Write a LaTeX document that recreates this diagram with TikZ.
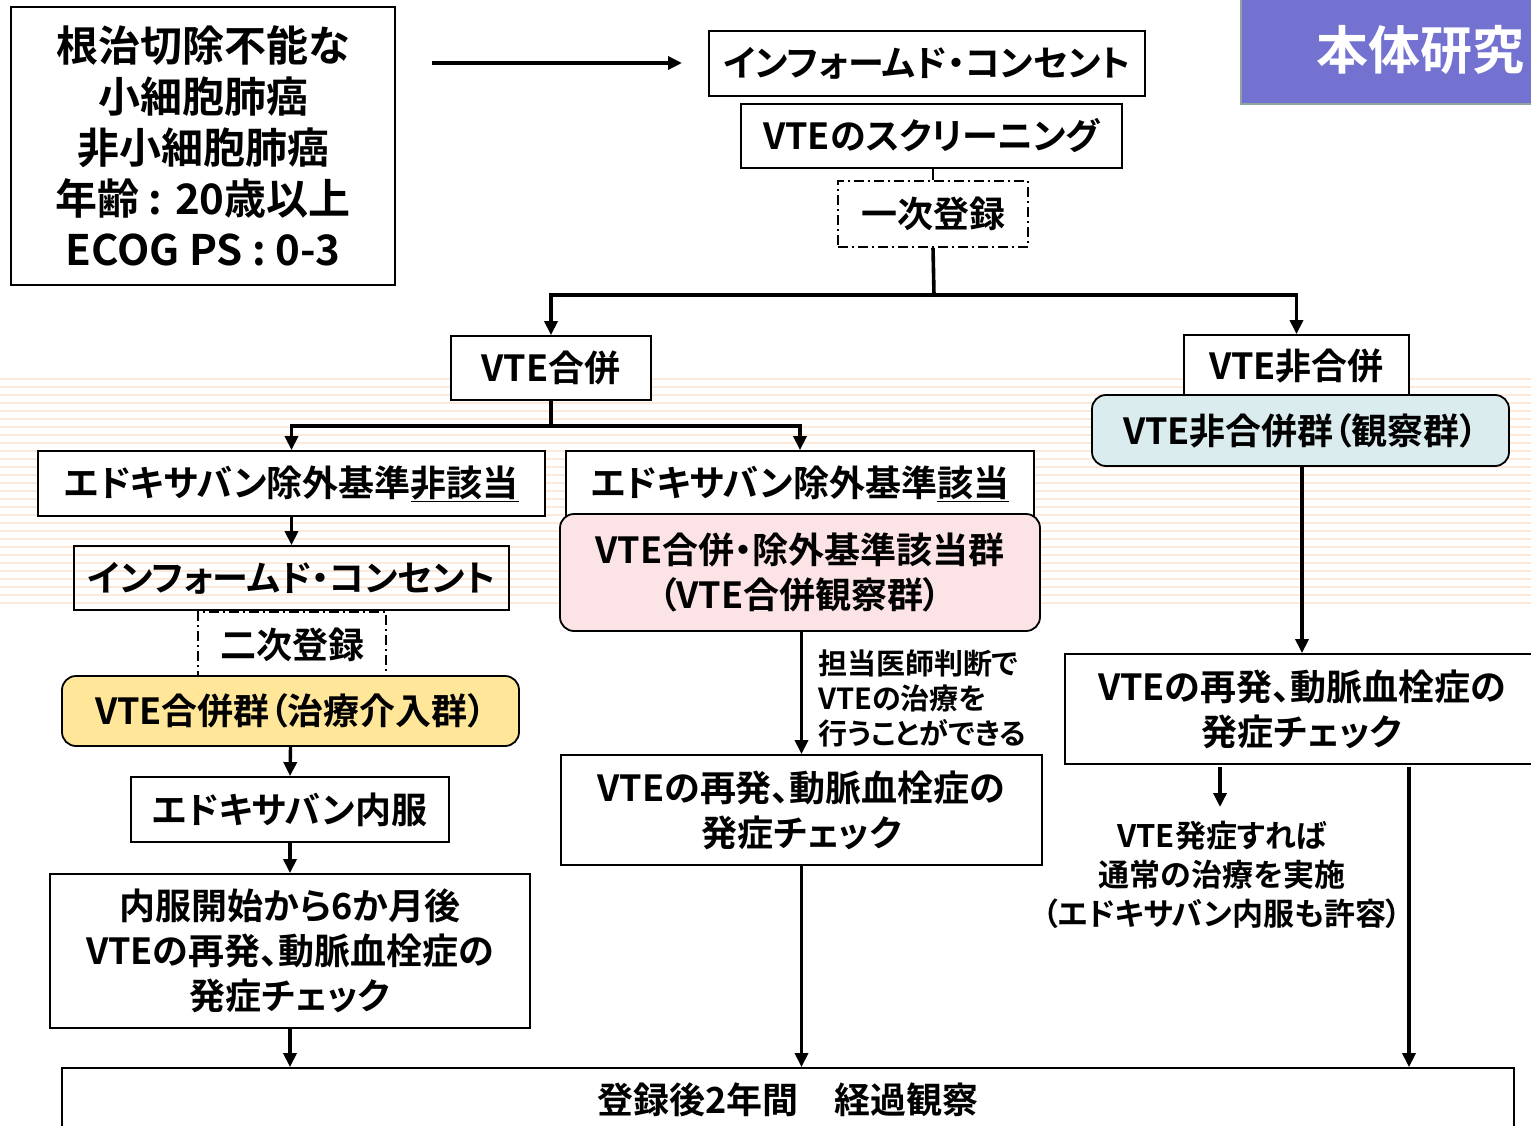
\documentclass[tikz,border=0pt]{standalone}
\usepackage{fontspec}
\setmainfont{Noto Sans CJK JP}[RawFeature=+palt, BoldFont={Noto Sans CJK JP Bold}]
\usetikzlibrary{arrows.meta}
\newcommand\myfs[2]{\fontsize{#1}{#2}\selectfont}
\definecolor{stripecol}{RGB}{253,233,217}
\definecolor{cyanfill}{RGB}{218,236,238}
\definecolor{pinkfill}{RGB}{252,228,230}
\definecolor{yelfill}{RGB}{255,230,153}
\definecolor{purp}{RGB}{116,114,208}
\definecolor{purpborder}{RGB}{140,165,160}
\tikzset{
  box/.style={draw, line width=1.8pt, fill=white, inner sep=0pt, align=center, font=\myfs{36}{45}\bfseries},
  rbox/.style={box, rounded corners=14pt},
  ddbox/.style={box, dash pattern=on 10pt off 4pt on 2pt off 4pt, line width=1.6pt},
  arr/.style={line width=3.4pt, -{Triangle[length=14pt,width=13pt]}},
  ln/.style={line width=3.6pt},
}
\begin{document}
\begin{tikzpicture}[x=1pt,y=-1pt]
\useasboundingbox (0,0) rectangle (1531,1126);
\clip (0,0) rectangle (1531,1126);
% background stripes
\foreach \yy in {379,387,...,603} \fill[stripecol] (0,\yy-1.3) rectangle (1531,\yy+1.3);

% top right tag
\node[draw=purpborder, fill=purp, line width=2.5pt, minimum width=358pt, minimum height=109pt, inner sep=0pt,
      text=white, font=\myfs{52}{60}\bfseries] (tag) at (1420,49.5) {本体研究};

% criteria box
\node[box, minimum width=384pt, minimum height=278pt, font=\myfs{42}{51}\bfseries] (crit) at (203,146)
  {根治切除不能な\\小細胞肺癌\\非小細胞肺癌\\年齢 : 20歳以上\\ECOG PS : 0-3};
\coordinate (a0) at (432,63);
\coordinate (a1) at (682,63);
\draw[arr] (a0) -- (a1);

\node[box, minimum width=436pt, minimum height=65pt] (ic1) at (927,63.5) {インフォームド・コンセント};
\node[box, minimum width=381pt, minimum height=64pt] (scr) at (931.5,136) {VTEのスクリーニング};
\node[ddbox, minimum width=190pt, minimum height=66pt] (reg1) at (933,214) {一次登録};
\draw[line width=2pt] (reg1.north) -- (reg1.north |- scr.south);

\node[box, minimum width=200pt, minimum height=64pt] (vte) at (551,368) {VTE合併};
\node[box, minimum width=225pt, minimum height=62pt] (nvte) at (1296.5,366) {VTE非合併};
\node[rbox, fill=cyanfill, minimum width=417pt, minimum height=71pt] (nvteg) at (1300.5,430.5) {VTE非合併群（観察群）};

\coordinate (j1) at (934,295);
\draw[ln] (reg1.south) -- (j1);
\draw[arr] (j1) -| (vte.north);
\draw[arr] (j1) -| (nvte.north);

\node[box, minimum width=507pt, minimum height=65pt] (nexc) at (291.5,483.5) {エドキサバン除外基準\underline{非該当}};
\node[box, minimum width=468pt, minimum height=65pt] (exc) at (800,483.5) {エドキサバン除外基準\underline{該当}};
\node[rbox, fill=pinkfill, minimum width=480pt, minimum height=117pt] (pink) at (800,572.5)
  {VTE合併・除外基準該当群\\（VTE合併観察群）};

\coordinate (j2) at (551,426);
\draw[ln] (vte.south) -- (j2);
\draw[arr] (j2) -| (nexc.north);
\draw[arr] (j2) -| (exc.north);

\node[box, fill=none, minimum width=435pt, minimum height=64pt] (ic2) at (291.5,578) {インフォームド・コンセント};
\node[ddbox, fill=none, minimum width=188pt, minimum height=65pt] (reg2) at (292,644.5) {二次登録};
\node[rbox, fill=yelfill, minimum width=457pt, minimum height=70pt] (yel) at (290.5,711) {VTE合併群（治療介入群）};
\node[box, minimum width=318pt, minimum height=65pt] (edo) at (290,809.5) {エドキサバン内服};
\node[box, minimum width=480pt, minimum height=154pt] (chk1) at (290,951)
  {内服開始から6か月後\\VTEの再発、動脈血栓症の\\発症チェック};
\node[box, minimum width=1452pt, minimum height=64pt] (fin) at (788,1100) {登録後2年間　経過観察};

\draw[arr] (nexc.south) -- (ic2.north);
\draw[arr] (yel.south) -- (edo.north);
\draw[arr] (edo.south) -- (chk1.north);
\draw[arr] (chk1.south) -- (chk1.south |- fin.north);

% middle column
\node[box, minimum width=481pt, minimum height=110pt] (chk2) at (801.5,810)
  {VTEの再発、動脈血栓症の\\発症チェック};
\draw[arr] (pink.south -| chk2.north) -- (chk2.north);
\node[anchor=west, align=left, inner sep=0pt, font=\myfs{29}{35}\bfseries] (lab) at (818,698)
  {担当医師判断で\\VTEの治療を\\行うことができる};
\draw[arr] (chk2.south) -- (chk2.south |- fin.north);

% right column
\node[box, minimum width=474pt, minimum height=110pt] (chk3) at (1302,709)
  {VTEの再発、動脈血栓症の\\発症チェック};
\draw[arr] (nvteg.south -| chk3.north) -- (chk3.north);
\node[align=center, inner sep=0pt, font=\myfs{31}{39}\bfseries] (note) at (1222,875)
  {VTE発症すれば\\通常の治療を実施\\（エドキサバン内服も許容）};
\coordinate (n0) at (1220,767);
\coordinate (n1) at (1220,807);
\draw[arr] (n0) -- (n1);
\coordinate (r0) at (1409,767);
\draw[arr] (r0) -- (r0 |- fin.north);
\end{tikzpicture}
\end{document}
